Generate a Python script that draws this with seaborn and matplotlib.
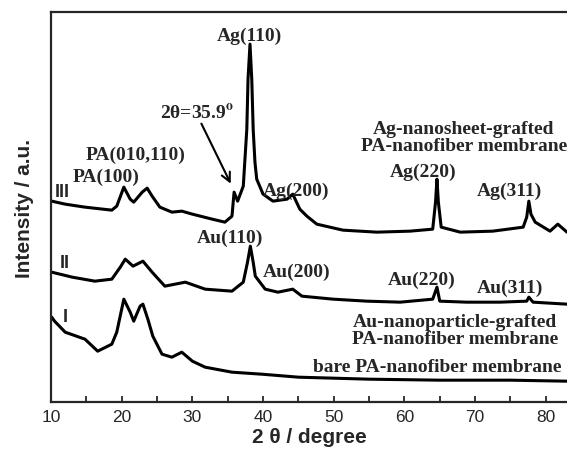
import numpy as np
import pandas as pd
import matplotlib
matplotlib.use('Agg')
import matplotlib.pyplot as plt
import seaborn as sns
from matplotlib.ticker import MultipleLocator

# Offset XRD patterns (a.u.)
x_III = [10.1, 12, 14.8, 18.6, 19.3, 20.3, 21.2, 21.7, 22.9, 23.6, 24.3, 25.4, 27.1, 28.5,
         30, 32.8, 34.6, 35.6, 35.9, 36.4, 37.2, 37.7, 37.87, 38.15, 38.4, 38.6, 38.85, 39.1,
         40, 41.4, 43.4, 44.2, 45.2, 46.2, 47.6, 51.3, 56.1, 60.8, 64.0, 64.4, 64.6, 64.8,
         65.2, 67.9, 72.5, 76.8, 77.3, 77.6, 77.9, 78.5, 80.6, 81.7, 83]
y_III = [201, 198, 195, 192, 196, 215, 203, 200, 210, 214, 206, 195, 190, 191,
         188, 183, 180, 186, 210, 201, 216, 273, 323, 358, 323, 273, 240, 223,
         208, 201, 203, 208, 193, 186, 178, 172, 170, 171, 173, 200, 223, 200,
         175, 170, 171, 175, 185, 201, 188, 180, 171, 178, 170]

x_II = [10.1, 13, 16.2, 18.6, 19.8, 20.5, 21.6, 23, 24.3, 26.1, 29, 31.8, 35.6, 37.2,
        37.8, 38.2, 38.6, 38.9, 40.3, 42.1, 44.2, 45.5, 49.9, 54.7, 59.4, 64.0, 64.6,
        65.0, 68.8, 73.5, 77.3, 77.6, 78.2, 83]
y_II = [130, 125, 121, 123, 135, 143, 136, 141, 130, 116, 120, 113, 111, 120,
        140, 156, 140, 126, 113, 110, 113, 106, 103, 101, 100, 103, 115,
        101, 100, 100, 101, 105, 100, 98]

x_I = [10.1, 10.5, 12, 14.8, 16.6, 18.6, 19.3, 20.3, 21.2, 21.7, 22.6, 23.0, 23.7, 24.4,
       25.7, 27.1, 28.5, 30, 31.8, 35.6, 39.8, 45, 55, 65, 75, 83]
y_I = [85, 81, 70, 63, 51, 58, 70, 103, 90, 81, 96, 98, 83, 66,
       48, 45, 50, 41, 35, 30, 28, 25, 23, 22, 22, 21]

sns.set_style('ticks')
plt.rcParams['font.family'] = ['Liberation Sans', 'DejaVu Sans']
plt.rcParams['mathtext.fontset'] = 'stix'

fig = plt.figure(figsize=(5.67, 4.52), dpi=100)
ax = fig.add_axes([0.09, 0.108, 0.91, 0.863])

for xs, ys in [(x_I, y_I), (x_II, y_II), (x_III, y_III)]:
    df = pd.DataFrame({'x': xs, 'y': ys})
    sns.lineplot(data=df, x='x', y='y', ax=ax, color='black', linewidth=2.2,
                 estimator=None, sort=False)

ax.set_xlim(10, 83)
ax.set_ylim(0, 390)
ax.set_yticks([])
ax.xaxis.set_major_locator(MultipleLocator(10))
ax.xaxis.set_minor_locator(MultipleLocator(5))
ax.tick_params(axis='x', which='both', direction='in', length=4, width=1.3,
               labelsize=12.5, pad=5, top=False)
for s in ['left', 'bottom', 'top']:
    ax.spines[s].set_linewidth(1.6)
ax.spines['right'].set_visible(False)

ax.set_xlabel('2 θ / degree', fontsize=15, fontweight='bold', labelpad=2)
ax.set_ylabel('Intensity / a.u.', fontsize=15, fontweight='bold', labelpad=12)

serif = dict(family='Liberation Serif', fontweight='bold', fontsize=14,
             ha='center', va='center')
ax.text(38.1, 367, 'Ag(110)', **serif)
ax.text(30.6, 290, r'2θ=35.9$^{\mathbf{o}}$', **serif)
ax.text(21.9, 248, 'PA(010,110)', **serif)
ax.text(17.8, 226, 'PA(100)', **serif)
ax.text(44.6, 212, 'Ag(200)', **serif)
ax.text(62.6, 231, 'Ag(220)', **serif)
ax.text(74.9, 212, 'Ag(311)', **serif)
ax.text(68.4, 265, 'Ag-nanosheet-grafted\nPA-nanofiber membrane',
        linespacing=0.95, **serif)
ax.text(35.3, 165, 'Au(110)', **serif)
ax.text(44.7, 131, 'Au(200)', **serif)
ax.text(62.5, 123, 'Au(220)', **serif)
ax.text(74.9, 115, 'Au(311)', **serif)
ax.text(67.2, 72, 'Au-nanoparticle-grafted\nPA-nanofiber membrane',
        linespacing=0.95, **serif)
ax.text(64.6, 36, 'bare PA-nanofiber membrane', **serif)

ax.annotate('', xy=(35.6, 216), xytext=(31.1, 281),
            arrowprops=dict(arrowstyle='->', color='black', lw=1.5, mutation_scale=16))

roman = dict(fontweight='bold', fontsize=13, ha='center', va='center')
ax.text(11.6, 211, 'III', **roman)
ax.text(12.0, 140, 'II', **roman)
ax.text(12.0, 86, 'I', **roman)

fig.savefig('out.png', dpi=100)
